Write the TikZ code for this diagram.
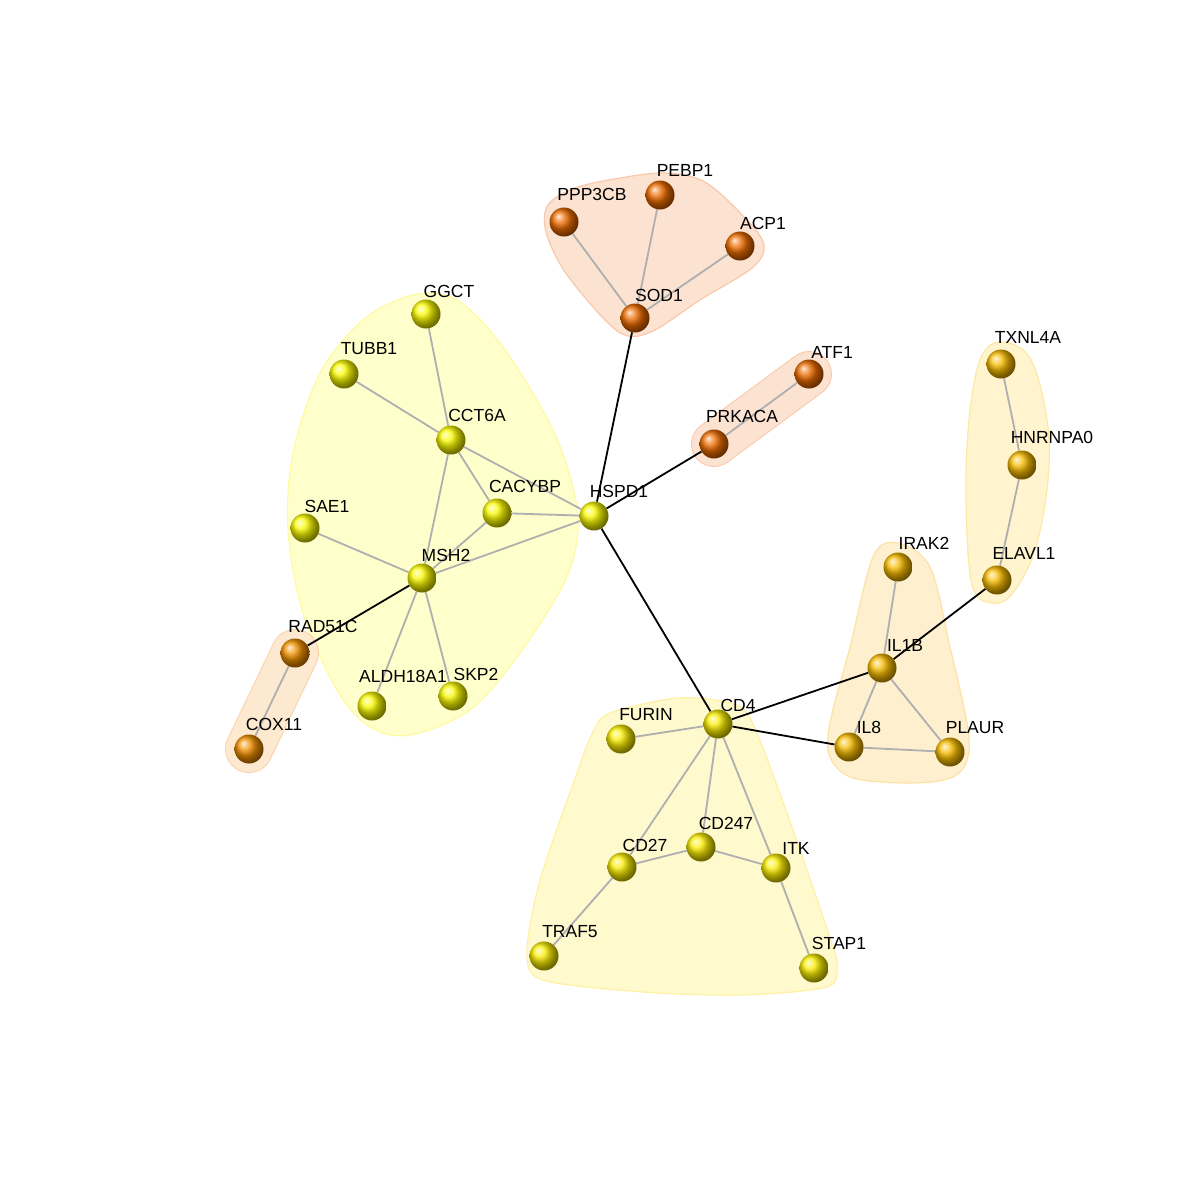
\documentclass[tikz,border=0pt]{standalone}
\usepackage{fontspec}
\setmainfont{Liberation Sans}
\usepackage{xcolor}
\usepackage{tikz}
\usetikzlibrary{positioning}

\pgfdeclarelayer{hull}
\pgfdeclarelayer{edge}
\pgfsetlayers{hull,edge,main}

% ball colours
\definecolor{ballY}{RGB}{250,250,0}
\definecolor{ballC}{RGB}{250,238,0}
\definecolor{ballG}{RGB}{248,188,0}
\definecolor{ballO}{RGB}{242,145,0}
\definecolor{ballR}{RGB}{238,108,0}
% hull colours
\definecolor{hullY}{RGB}{255,255,204}
\definecolor{hullYb}{RGB}{255,250,160}
\definecolor{hullC}{RGB}{255,249,206}
\definecolor{hullCb}{RGB}{255,240,165}
\definecolor{hullG}{RGB}{254,240,206}
\definecolor{hullGb}{RGB}{253,225,165}
\definecolor{hullT}{RGB}{255,244,206}
\definecolor{hullTb}{RGB}{253,232,165}
\definecolor{hullO}{RGB}{253,232,208}
\definecolor{hullOb}{RGB}{250,210,170}
\definecolor{hullR}{RGB}{252,226,208}
\definecolor{hullRb}{RGB}{250,200,170}
\definecolor{edgegray}{RGB}{175,175,175}

\tikzset{
  gene/.style={circle, inner sep=0pt, minimum size=29pt, ball color=#1},
  lbl/.style={font=\fontsize{17.5}{20}\selectfont, inner sep=0pt},
  weak/.style={draw=edgegray, line width=1.8pt},
  strong/.style={draw=black, line width=1.8pt},
  hullpath/.style 2 args={fill=#1, draw=#2, line width=1.2pt}
}

\begin{document}
\begin{tikzpicture}[x=1pt, y=-1pt]
    \useasboundingbox (0,0) rectangle (1200,1200);

    % SOD1 group
    \node[gene=ballR] (pebp) at (660,195) {};
    \node[gene=ballR] (ppp) at (564,222) {};
    \node[gene=ballR] (acp) at (740,246) {};
    \node[gene=ballR] (sod) at (635,318) {};
    % chaperone group
    \node[gene=ballY] (ggct) at (426,314) {};
    \node[gene=ballY] (tubb) at (344,374) {};
    \node[gene=ballY] (cct) at (451,440) {};
    \node[gene=ballY] (cacy) at (497,513) {};
    \node[gene=ballY] (hspd) at (594,516) {};
    \node[gene=ballY] (sae) at (305,528) {};
    \node[gene=ballY] (msh) at (422,578) {};
    \node[gene=ballY] (aldh) at (372,706) {};
    \node[gene=ballY] (skp) at (453,696) {};
    % RAD51C pair
    \node[gene=ballO] (rad) at (295,653) {};
    \node[gene=ballO] (cox) at (249,749) {};
    % PRKACA pair
    \node[gene=ballR] (atf) at (809,374) {};
    \node[gene=ballR] (prk) at (714,444) {};
    % TXNL4A group
    \node[gene=ballG] (txn) at (1001,364) {};
    \node[gene=ballG] (hnr) at (1022,465) {};
    \node[gene=ballG] (elav) at (997,580) {};
    % IL1B group
    \node[gene=ballG] (irak) at (898,567) {};
    \node[gene=ballG] (ilb) at (882,668) {};
    \node[gene=ballG] (ile) at (849,747) {};
    \node[gene=ballG] (plaur) at (950,752) {};
    % CD4 group
    \node[gene=ballC] (cdf) at (718,724) {};
    \node[gene=ballC] (furin) at (621,739) {};
    \node[gene=ballC] (cdts) at (622,867) {};
    \node[gene=ballC] (cdtf) at (701,847) {};
    \node[gene=ballC] (itk) at (776,868) {};
    \node[gene=ballC] (traf) at (544,956) {};
    \node[gene=ballC] (stap) at (814,968) {};

    % Labels
    \node[lbl] (t-pebp) at (685,170) {PEBP1};
    \node[lbl] (t-ppp) at (592,194) {PPP3CB};
    \node[lbl] (t-acp) at (763,223) {ACP1};
    \node[lbl] (t-sod) at (659,295) {SOD1};
    \node[lbl] (t-ggct) at (449,291) {GGCT};
    \node[lbl] (t-tubb) at (369,349) {TUBB1};
    \node[lbl] (t-cct) at (477,415) {CCT6A};
    \node[lbl] (t-cacy) at (525,486) {CACYBP};
    \node[lbl] (t-hspd) at (619,491) {HSPD1};
    \node[lbl] (t-sae) at (327,506) {SAE1};
    \node[lbl] (t-msh) at (446,555) {MSH2};
    \node[lbl] (t-rad) at (323,626) {RAD51C};
    \node[lbl] (t-aldh) at (403,676) {ALDH18A1};
    \node[lbl] (t-skp) at (476,674) {SKP2};
    \node[lbl] (t-cox) at (274,724) {COX11};
    \node[lbl] (t-atf) at (832,352) {ATF1};
    \node[lbl] (t-prk) at (742,416) {PRKACA};
    \node[lbl] (t-txn) at (1028,337) {TXNL4A};
    \node[lbl] (t-hnr) at (1052,437) {HNRNPA0};
    \node[lbl] (t-elav) at (1024,553) {ELAVL1};
    \node[lbl] (t-irak) at (924,543) {IRAK2};
    \node[lbl] (t-ilb) at (905,645) {IL1B};
    \node[lbl] (t-ile) at (869,727) {IL8};
    \node[lbl] (t-plaur) at (975,728) {PLAUR};
    \node[lbl] (t-cdf) at (738,705) {CD4};
    \node[lbl] (t-furin) at (646,715) {FURIN};
    \node[lbl] (t-cdts) at (645,845) {CD27};
    \node[lbl] (t-cdtf) at (726,823) {CD247};
    \node[lbl] (t-itk) at (796,848) {ITK};
    \node[lbl] (t-traf) at (570,932) {TRAF5};
    \node[lbl] (t-stap) at (839,943) {STAP1};

    % Hulls
    \begin{pgfonlayer}{hull}
      \filldraw[hullpath={hullY}{hullYb}] plot[smooth cycle, tension=0.55] coordinates {
        (413,295) (457,300) (503,347) (553,430) (575,497) (577,540) (563,585)
        (520,653) (470,710) (410,735) (370,727) (337,690) (303,613) (288,530)
        (293,453) (320,373) (363,320)};
      \filldraw[hullpath={hullC}{hullCb}] plot[smooth cycle, tension=0.5] coordinates {
        (610,713) (677,698) (730,703) (752,722) (793,830) (833,947) (837,967)
        (827,987) (743,995) (643,992) (543,980) (527,953) (540,880) (577,773)
        (593,732)};
      \filldraw[hullpath={hullG}{hullGb}] plot[smooth cycle, tension=0.55] coordinates {
        (897,543) (930,567) (950,647) (967,723) (968,757) (953,777) (913,783)
        (853,778) (830,757) (830,723) (850,647) (873,557)};
      \filldraw[hullpath={hullT}{hullTb}] plot[smooth cycle, tension=0.6] coordinates {
        (1000,342) (1030,358) (1047,420) (1048,480) (1035,550) (1012,594)
        (992,603) (972,585) (966,500) (969,420) (980,360)};
      \filldraw[hullpath={hullR}{hullRb}] plot[smooth cycle, tension=0.55] coordinates {
        (548,205) (575,188) (620,178) (665,173) (705,182) (745,218) (764,245)
        (752,268) (700,300) (655,330) (628,336) (605,320) (565,272) (546,232)};
      \draw[line width=48pt, line cap=round, hullOb] (rad.center) -- (cox.center);
      \draw[line width=46pt, line cap=round, hullO] (rad.center) -- (cox.center);
      \draw[line width=46pt, line cap=round, hullRb] (prk.center) -- (atf.center);
      \draw[line width=44pt, line cap=round, hullR] (prk.center) -- (atf.center);
    \end{pgfonlayer}

    % Edges
    \begin{pgfonlayer}{edge}
      \foreach \a/\b in {pebp/sod, ppp/sod, acp/sod, ggct/cct, tubb/cct,
          cct/hspd, cct/cacy, cct/msh, cacy/hspd, cacy/msh, msh/hspd,
          sae/msh, msh/aldh, msh/skp, rad/cox, atf/prk, txn/hnr, hnr/elav,
          irak/ilb, ilb/ile, ilb/plaur, ile/plaur, cdf/furin, cdf/cdts,
          cdf/cdtf, cdf/itk, cdts/cdtf, cdtf/itk, cdts/traf, itk/stap}
        \draw[weak] (\a) -- (\b);
      \foreach \a/\b in {sod/hspd, hspd/prk, hspd/cdf, msh/rad, cdf/ilb,
          cdf/ile, ilb/elav}
        \draw[strong] (\a) -- (\b);
    \end{pgfonlayer}
  \end{tikzpicture}
\end{document}
